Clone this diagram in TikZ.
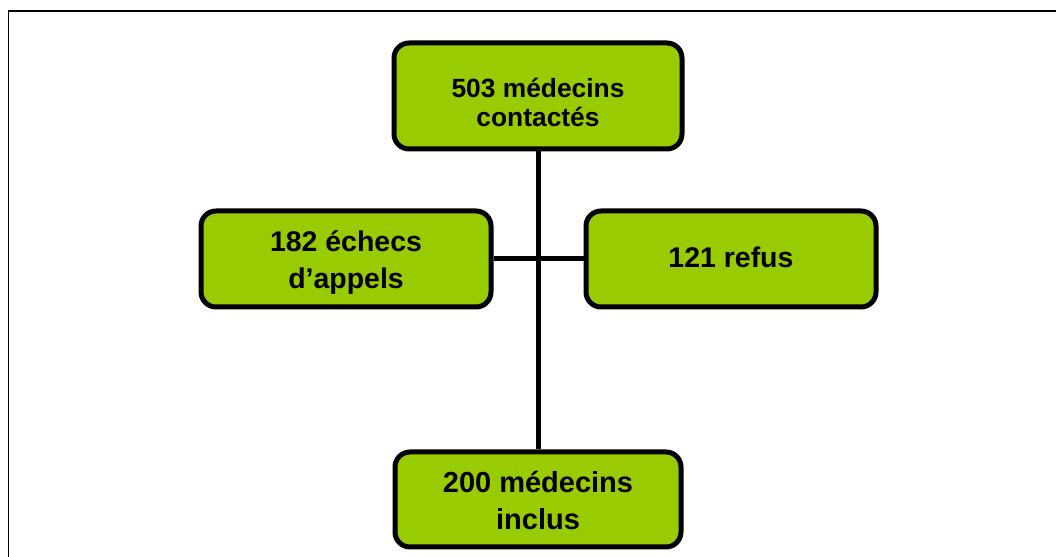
\documentclass[tikz,border=0pt]{standalone}
\usepackage{fontspec}
\setmainfont{Liberation Sans}
\usepackage{tikz}

\tikzset{
  etape/.style={draw=black, line width=0.1cm, fill=vert, rounded corners=0.3cm,
    align=center, minimum width=5.8cm, minimum height=1.92cm, inner sep=0pt,
    text depth=0pt},
  lien/.style={black, line width=0.1cm}
}
\definecolor{vert}{RGB}{153,204,0}

\begin{document}
\begin{tikzpicture}
\useasboundingbox (0,0) rectangle (21.12,11.14);
\draw[black, line width=0.04cm] (0.17,0) -- (0.17,10.92) -- (21.12,10.92);

\node[etape, minimum width=5.76cm, minimum height=2.12cm, text height=35.2pt,
  font=\fontsize{15}{16.5}\selectfont\bfseries] (contactes) at (10.76,9.22) {503 médecins\\contactés};
\node[etape, text height=34pt, font=\fontsize{16.2}{21}\selectfont\bfseries]
  (echecs) at (6.92,5.96) {182 échecs\\d’appels};
\node[etape, text height=10.2pt, font=\fontsize{16.2}{21}\selectfont\bfseries]
  (refus) at (14.62,5.96) {121 refus};
\node[etape, minimum width=5.72cm, minimum height=1.9cm, text height=34.6pt,
  font=\fontsize{16.5}{21.5}\selectfont\bfseries] (inclus) at (10.76,1.15) {200 médecins\\inclus};

\draw[lien] (contactes.south) -- (inclus.north);
\draw[lien] (echecs.east) -- (refus.west);
\end{tikzpicture}
\end{document}
